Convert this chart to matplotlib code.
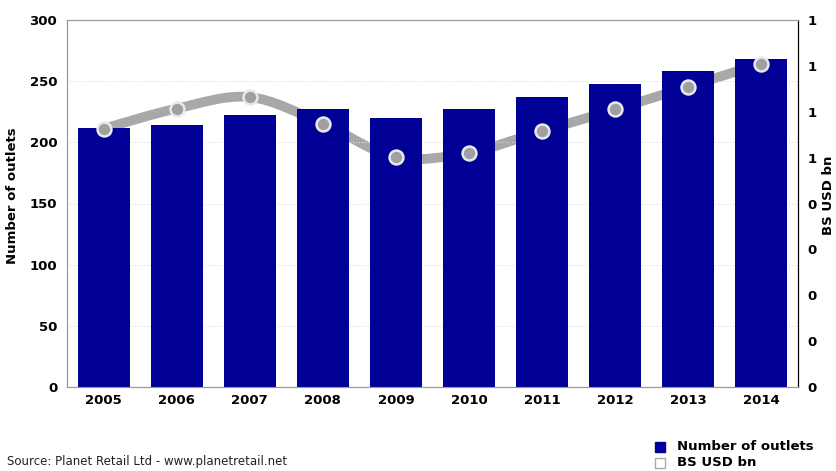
import matplotlib.pyplot as plt
from matplotlib.path import Path
from matplotlib.patches import PathPatch
import numpy as np

# data
years = ["2005", "2006", "2007", "2008", "2009", "2010", "2011", "2012", "2013", "2014"]
outlets = [212, 214, 222, 227, 220, 227, 237, 248, 258, 268]
bs_usd = [0.563, 0.607, 0.632, 0.574, 0.501, 0.511, 0.558, 0.605, 0.655, 0.705]

left_ticks = [0, 50, 100, 150, 200, 250, 300]
right_ticks = [0, 0.1, 0.2, 0.3, 0.4, 0.5, 0.6, 0.7, 0.8]
right_labels = ["0", "0", "0", "0", "0", "1", "1", "1", "1"]

bar_color = '#000096'
line_color = '#a8a8a8'

plt.rcParams['font.family'] = ['DejaVu Sans']

fig = plt.figure(figsize=(8.36, 4.71), dpi=100)
ax = fig.add_axes([67/836, 1 - 387/471, 731/836, 367/471])
ax2 = ax.twinx()

x = np.arange(len(years))

# smooth grey line (catmull-rom through the points), drawn behind the bars
ax2.set_zorder(ax.get_zorder() - 1)
ax.patch.set_visible(False)

verts = [(x[0], bs_usd[0])]
codes = [Path.MOVETO]
for i in range(len(x) - 1):
    p0 = (x[max(i - 1, 0)], bs_usd[max(i - 1, 0)])
    p1 = (x[i], bs_usd[i])
    p2 = (x[i + 1], bs_usd[i + 1])
    p3 = (x[min(i + 2, len(x) - 1)], bs_usd[min(i + 2, len(x) - 1)])
    c1 = (p1[0] + (p2[0] - p0[0]) / 6, p1[1] + (p2[1] - p0[1]) / 6)
    c2 = (p2[0] - (p3[0] - p1[0]) / 6, p2[1] - (p3[1] - p1[1]) / 6)
    verts += [c1, c2, p2]
    codes += [Path.CURVE4] * 3
ax2.add_patch(PathPatch(Path(verts, codes), facecolor='none', edgecolor=line_color, lw=7, capstyle='round'))

ax.bar(x, outlets, width=0.71, color=bar_color, zorder=2)
# markers on top of the bars
ax.plot(x, [v / 0.8 * 300 for v in bs_usd], 'o', ms=10, mfc='#a0a0a0', mec='#e8e8f0', mew=1.8, zorder=3)

ax.set_xlim(-0.5, 9.5)
ax.set_ylim(0, 300)
ax2.set_ylim(0, 0.8)
ax.set_yticks(left_ticks)
ax.set_yticklabels([str(t) for t in left_ticks], fontsize=9.5, fontweight='bold')
ax2.set_yticks(right_ticks)
ax2.set_yticklabels(right_labels, fontsize=9.5, fontweight='bold')
ax.set_xticks(x)
ax.set_xticklabels(years, fontsize=9.5, fontweight='bold')
ax.tick_params(axis='y', length=0, pad=7)
ax.tick_params(axis='x', length=0, pad=5)
ax2.tick_params(length=0, pad=7)

for t in left_ticks[1:-1]:
    ax.axhline(t, color='#dddddd', lw=0.8, ls=':', zorder=1)

for a in (ax, ax2):
    for s in ('left', 'top', 'bottom'):
        a.spines[s].set_color('#999999')
    a.spines['right'].set_color('black')

ax.set_ylabel('Number of outlets', fontsize=9.5, fontweight='bold')
ax.yaxis.set_label_coords(-0.066, 0.52)
fig.text(829/836, 1 - 195/471, 'BS USD bn', fontsize=9.5, fontweight='bold', rotation=90,
         ha='center', va='center')

# legend by hand at bottom right
fig.patches.append(plt.Rectangle((655/836, 1 - 452/471), 10/836, 10/471, transform=fig.transFigure,
                                 facecolor=bar_color, edgecolor=bar_color))
fig.patches.append(plt.Rectangle((655/836, 1 - 468/471), 10/836, 10/471, transform=fig.transFigure,
                                 facecolor='white', edgecolor='#aaaaaa'))
fig.text(677/836, 1 - 447/471, 'Number of outlets', fontsize=9.5, fontweight='bold', va='center')
fig.text(677/836, 1 - 463/471, 'BS USD bn', fontsize=9.5, fontweight='bold', va='center')

fig.text(7/836, 1 - 462/471, 'Source: Planet Retail Ltd - www.planetretail.net', fontsize=8.5,
         color='#222222', va='center')

fig.savefig('out.png', dpi=100)
